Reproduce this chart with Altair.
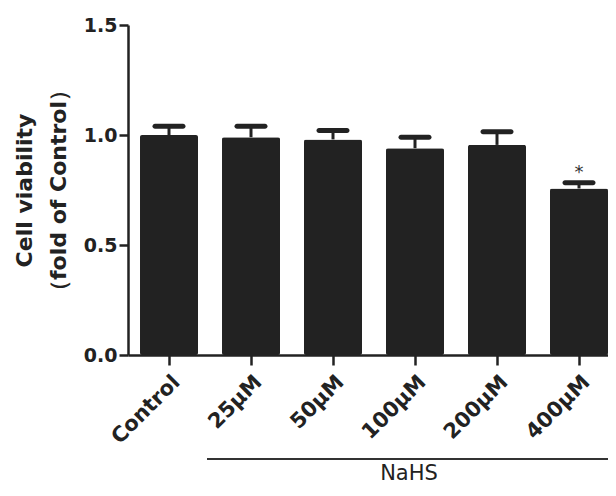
import altair as alt
import pandas as pd

groups = ["Control", "25µM", "50µM", "100µM", "200µM", "400µM"]
means = [1.00, 0.99, 0.98, 0.94, 0.955, 0.757]
upper = [1.04, 1.04, 1.02, 0.99, 1.015, 0.783]
sig = ["", "", "", "", "", "*"]

df = pd.DataFrame({"group": groups, "mean": means, "upper": upper, "sig": sig})

DARK = "#222222"
FONT = "DejaVu Sans"

x_enc = alt.X(
    "group:N",
    sort=groups,
    scale=alt.Scale(paddingInner=0.2927, paddingOuter=0.0732, align=1),
    axis=alt.Axis(
        title=None,
        labelAngle=-45,
        labelFont=FONT,
        labelFontWeight="bold",
        labelFontSize=21,
        labelColor=DARK,
        labelPadding=6,
        tickSize=10,
        tickWidth=2.5,
        tickColor=DARK,
        domainWidth=2.5,
        domainColor=DARK,
        grid=False,
    ),
)

y_scale = alt.Scale(domain=[0, 1.5], nice=False, zero=True)
y_axis = alt.Axis(
    title=["Cell viability", "（fold of Control）"],
    titleFont=FONT,
    titleFontWeight="bold",
    titleFontSize=22,
    titleColor=DARK,
    titleLineHeight=34,
    titleBaseline="alphabetic",
    titleX=-97,
    titleY=165,
    titleAngle=-90,
    values=[0, 0.5, 1.0, 1.5],
    format=".1f",
    labelFont=FONT,
    labelFontWeight="bold",
    labelFontSize=19,
    labelColor=DARK,
    labelPadding=2,
    tickSize=9,
    tickWidth=2.5,
    tickColor=DARK,
    domainWidth=2.5,
    domainColor=DARK,
    grid=False,
)

base = alt.Chart(df)

bars = base.mark_bar(color=DARK, cornerRadius=2).encode(
    x=x_enc,
    y=alt.Y("mean:Q", scale=y_scale, axis=y_axis),
)

stems = base.mark_rule(color=DARK, strokeWidth=3).encode(
    x=alt.X("group:N", sort=groups),
    y=alt.Y("mean:Q"),
    y2="upper:Q",
)

caps = base.mark_tick(color=DARK, size=33, thickness=5, cornerRadius=2.5, opacity=1).encode(
    x=alt.X("group:N", sort=groups),
    y=alt.Y("upper:Q"),
)

stars = base.mark_text(
    color="#333333", font=FONT, fontSize=18, baseline="alphabetic", dy=-5
).encode(
    x=alt.X("group:N", sort=groups),
    y=alt.Y("upper:Q"),
    text="sig:N",
)

ann = pd.DataFrame({"label": ["NaHS"]})
bracket = alt.Chart(ann).mark_rule(color="#333333", strokeWidth=2).encode(
    x=alt.value(79), x2=alt.value(480), y=alt.value(434)
)
nahs = alt.Chart(ann).mark_text(
    font=FONT, fontSize=21, color=DARK, baseline="alphabetic", align="center"
).encode(x=alt.value(281), y=alt.value(455), text="label:N")

chart = (
    alt.layer(bars, stems, caps, stars, bracket, nahs)
    .properties(
        width=480,
        height=330,
        padding={"left": 120, "top": 17, "right": 0, "bottom": 133},
        autosize=alt.AutoSizeParams(type="none"),
        background="white",
    )
    .configure_view(stroke=None)
)

chart.save("out.html", embed_options={"renderer": "svg", "actions": False})
